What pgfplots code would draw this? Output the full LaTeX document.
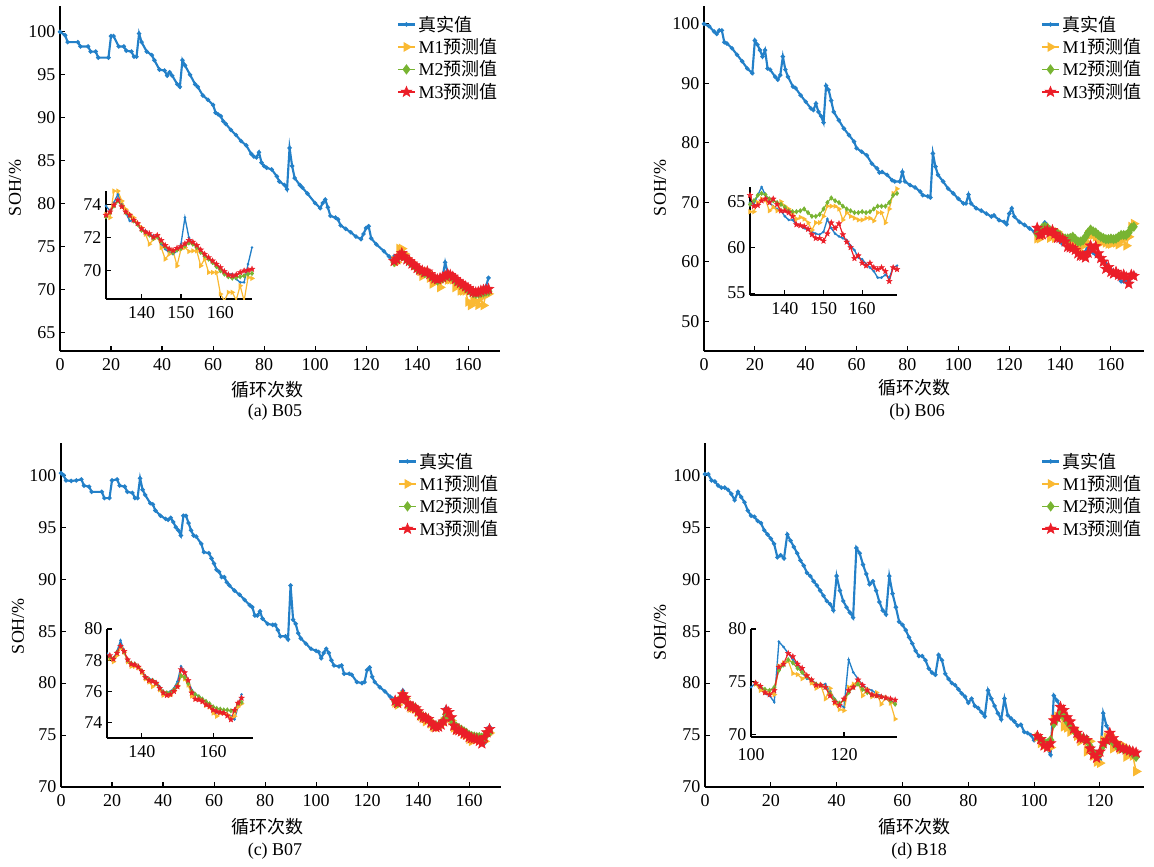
\documentclass[border=0pt]{standalone}
\usepackage{fontspec}
\setmainfont{Liberation Serif}
\newfontfamily\cjk{Noto Sans CJK SC}
\usepackage{pgfplots}
\usepackage{pgfplotstable}
\pgfplotsset{compat=1.18}
\usetikzlibrary{plotmarks}
\definecolor{cB}{RGB}{35,128,200}
\definecolor{cY}{RGB}{250,185,50}
\definecolor{cG}{RGB}{120,180,50}
\definecolor{cR}{RGB}{235,30,40}
\newcommand\fs{\fontsize{13.5}{16}\selectfont}

\pgfdeclareplotmark{fstar}{%
  \pgfpathmoveto{\pgfpointpolar{90}{\pgfplotmarksize}}%
  \pgfpathlineto{\pgfpointpolar{126}{0.42\pgfplotmarksize}}%
  \pgfpathlineto{\pgfpointpolar{162}{\pgfplotmarksize}}%
  \pgfpathlineto{\pgfpointpolar{198}{0.42\pgfplotmarksize}}%
  \pgfpathlineto{\pgfpointpolar{234}{\pgfplotmarksize}}%
  \pgfpathlineto{\pgfpointpolar{270}{0.42\pgfplotmarksize}}%
  \pgfpathlineto{\pgfpointpolar{306}{\pgfplotmarksize}}%
  \pgfpathlineto{\pgfpointpolar{342}{0.42\pgfplotmarksize}}%
  \pgfpathlineto{\pgfpointpolar{18}{\pgfplotmarksize}}%
  \pgfpathlineto{\pgfpointpolar{54}{0.42\pgfplotmarksize}}%
  \pgfpathclose
  \pgfusepathqfillstroke
}

\pgfplotsset{
  base/.style={scale only axis, axis lines=left, axis line style={-, line width=0.9pt, black},
    tick align=inside, major tick length=4pt, every tick/.style={black, line width=0.8pt},
    tick label style={font=\fs}, xticklabel style={yshift=-2pt},
    /pgf/number format/assume math mode=true,
    /pgf/number format/1000 sep={}, clip=true},
  mainax/.style={base, width=330pt, height=258.75pt,
    legend style={draw=none, fill=none, at={(0.765,0.98)}, anchor=north west, inner sep=0pt,
      row sep=0pt, font=\fs, cells={anchor=west}},
    legend cell align=left,
    legend image code/.code={\draw[mark repeat=2,mark phase=2] plot coordinates {(0cm,0cm) (0.225cm,0cm) (0.45cm,0cm)};}},
  inax/.style={base, width=109.5pt, height=81pt},
  tS/.style={color=cB, line width=1.6pt, mark=*, mark size=0.7pt, mark options={solid}},
  m1S/.style={color=cY, line width=1.1pt, mark=triangle*, mark size=3.2pt, mark options={rotate=-90, solid}},
  m2S/.style={color=cG, line width=1.1pt, mark=diamond*, mark size=3pt, mark options={solid}},
  m3S/.style={color=cR, line width=1.1pt, mark=fstar, mark size=4.2pt, mark options={solid, line width=0.4pt}},
  tSi/.style={color=cB, line width=1pt, mark=*, mark size=0.4pt, mark options={solid}},
  m1Si/.style={color=cY, line width=0.9pt, mark=triangle*, mark size=1.4pt, mark options={rotate=-90, solid}},
  m2Si/.style={color=cG, line width=0.9pt, mark=diamond*, mark size=1.3pt, mark options={solid}},
  m3Si/.style={color=cR, line width=0.9pt, mark=fstar, mark size=2.2pt, mark options={solid, line width=0.3pt}},
}

% ---------------- B05 ----------------
\pgfplotstableread{
c v
0 100.0
2 99.6
3 98.8
7 98.8
8 98.3
11 98.3
12 97.7
14 97.7
15 97.0
19 97.0
20 99.5
21 99.5
23 98.3
25 98.3
26 97.8
28 97.7
29 97.1
30 97.1
31 99.8
32 98.8
34 97.7
36 97.3
37 96.7
39 95.6
41 95.5
42 94.9
43 95.3
44 94.9
46 93.9
47 93.6
48 96.7
49 96.1
51 95.0
53 93.9
54 93.6
56 92.6
58 92.1
60 91.5
61 90.6
62 90.4
63 90.2
64 89.6
65 89.3
67 88.6
69 88.0
71 87.3
73 86.8
75 85.8
76 85.5
77 85.4
78 86.0
79 84.8
80 84.4
81 84.2
83 84.0
85 83.2
86 82.6
88 82.2
89 81.7
90 86.5
91 84.4
92 83.0
94 82.2
95 81.9
97 81.2
100 80.1
102 79.5
103 80.1
104 80.5
105 79.6
106 78.6
108 78.4
109 78.2
110 77.5
112 77.1
114 76.7
116 76.2
118 75.9
119 76.5
120 77.2
121 77.4
122 76.0
124 75.3
127 74.5
129 73.9
130 73.6
131 73.9
132 73.6
133 74.1
134 74.6
135 74.0
136 73.5
137 73.0
138 73.0
139 72.8
140 72.5
141 72.4
142 72.2
143 72.1
144 72.0
145 71.6
146 71.3
147 71.1
148 71.0
149 71.2
150 71.6
151 73.2
152 72.0
153 71.6
154 71.5
155 71.2
156 70.9
157 70.7
158 70.5
159 70.3
160 70.1
161 69.9
162 69.8
163 69.8
164 69.5
165 69.3
166 69.3
167 70.4
168 71.4
}\tAt
\pgfplotstableread{
c m1 m2 m3
131 73.4 73.25 73.35
132 73.2 73.5 73.55
133 74.8 73.9 73.96
134 74.8 74.2 74.26
135 74.2 73.9 73.86
136 73.7 73.5 73.55
137 73.4 73.3 73.35
138 73.2 73.0 73.05
139 72.84 72.8 72.85
140 72.6 72.44 72.54
141 72.2 72.3 72.34
142 71.6 72.15 72.24
143 71.9 71.95 72.03
144 72.1 72.05 72.13
145 71.4 71.73 71.83
146 70.7 71.45 71.53
147 71.0 71.25 71.32
148 71.2 71.1 71.22
149 70.3 71.25 71.36
150 71.3 71.35 71.46
151 71.4 71.5 71.63
152 71.16 71.67 71.83
153 71.2 71.6 71.73
154 71.2 71.4 71.53
155 70.3 71.1 71.26
156 70.7 70.9 71.0
157 69.9 70.7 70.8
158 69.9 70.5 70.6
159 69.9 70.25 70.4
160 68.6 70.0 70.2
161 68.2 69.8 69.96
162 68.7 69.64 69.76
163 68.7 69.56 69.7
164 68.24 69.6 69.76
165 69.1 69.64 69.9
166 68.2 69.7 70.0
167 69.6 69.8 70.04
168 69.54 69.84 70.1
}\pA

% ---------------- B06 ----------------
\pgfplotstableread{
c v
0 100.0
2 99.6
4 98.7
5 98.3
6 98.9
7 98.9
8 96.9
9 96.7
11 95.9
13 94.8
15 93.7
17 92.5
19 91.7
20 97.2
21 96.5
22 95.6
23 94.5
24 95.6
25 92.5
26 92.3
28 91.1
29 90.6
30 91.4
31 94.5
32 92.3
33 91.1
35 89.45
36 89.2
38 88.0
40 86.9
42 85.8
43 85.5
44 86.6
45 85.2
46 84.5
47 83.4
48 89.6
49 88.9
50 87.1
51 85.2
53 83.8
55 82.4
57 81.3
59 80.2
60 79.1
62 78.5
64 77.9
66 76.5
68 75.7
69 75.0
70 75.1
72 74.6
74 73.7
75 73.5
77 73.5
78 75.1
79 73.5
81 72.9
83 72.5
85 71.8
86 71.2
88 71.0
89 70.8
90 78.2
91 76.0
92 74.6
94 73.5
96 72.3
98 71.5
100 70.6
102 69.8
103 69.8
104 71.3
105 69.8
107 69.0
109 68.6
111 68.1
113 67.6
114 67.8
116 67.0
118 66.7
119 66.3
120 68.1
121 69.0
122 67.6
124 66.7
126 66.2
128 65.6
130 65.0
131 64.9
132 64.7
133 65.7
134 66.6
135 65.7
136 64.9
137 64.5
138 64.2
139 64.0
140 63.4
141 63.0
142 63.0
143 62.5
144 62.4
145 62.1
146 61.9
147 61.7
148 61.5
149 61.4
150 61.7
151 63.1
152 62.1
153 61.5
154 61.2
155 61.0
156 60.8
157 60.2
158 59.7
159 58.9
160 58.7
161 58.2
162 57.8
163 57.4
164 56.7
165 56.7
166 57.0
167 56.7
168 57.8
169 58.0
}\tBt
\pgfplotstableread{
c m1 m2 m3
131 63.9 64.7 65.7
132 63.9 65.1 64.5
133 64.9 65.7 64.6
134 65.3 65.9 65.1
135 65.2 65.75 65.3
136 64.0 65.3 64.9
137 64.4 65.1 65.3
138 64.0 64.9 64.7
139 65.0 64.7 64.0
140 64.5 64.4 64.0
141 64.2 64.0 63.8
142 63.8 63.9 63.4
143 63.1 63.9 62.5
144 63.3 64.0 62.4
145 63.1 64.2 62.3
146 62.7 63.8 62.0
147 61.9 63.4 61.4
148 62.7 63.4 61.0
149 62.7 63.6 61.0
150 63.4 64.2 60.7
151 64.5 64.9 61.5
152 64.5 65.4 62.7
153 64.5 65.1 62.1
154 64.2 64.9 62.6
155 63.0 64.5 61.4
156 63.8 64.2 60.6
157 63.4 64.0 60.0
158 63.2 63.8 58.8
159 63.0 63.8 59.1
160 63.0 63.9 58.3
161 63.2 63.8 58.0
162 63.2 63.9 58.3
163 62.9 64.2 57.8
164 63.8 64.5 57.6
165 63.8 64.5 57.8
166 62.7 64.5 57.4
167 64.2 64.9 56.3
168 65.9 65.7 57.8
169 66.4 65.9 57.6
}\pB

% ---------------- B07 ----------------
\pgfplotstableread{
c v
0 100.2
1 100.0
2 99.5
4 99.45
6 99.5
8 99.6
9 99.0
11 98.9
12 98.4
16 98.4
17 97.8
19 97.8
20 99.5
22 99.6
23 99.0
25 98.9
26 98.4
28 98.3
29 97.8
30 97.8
31 99.7
32 98.6
33 98.1
35 97.3
36 97.2
37 96.6
39 96.1
41 95.8
42 95.7
43 95.9
44 95.5
45 95.0
46 94.7
47 94.2
48 96.1
49 96.1
50 95.4
51 94.7
52 94.2
53 94.1
55 93.4
56 92.6
58 92.5
59 92.0
60 91.5
61 90.9
62 90.7
63 90.2
64 90.2
65 89.7
66 89.4
68 88.9
70 88.5
72 88.0
74 87.5
75 87.3
76 86.5
77 86.5
78 86.9
79 86.2
81 85.7
83 85.6
84 85.6
85 85.1
86 84.5
88 84.5
89 84.2
90 89.4
91 86.1
92 85.7
93 84.8
94 84.3
96 83.8
98 83.3
100 83.1
101 83.0
102 82.4
103 82.9
104 83.3
105 82.9
106 82.2
107 81.7
109 81.6
110 81.7
111 80.9
113 80.9
114 80.8
116 80.1
118 80.0
119 80.1
120 81.25
121 81.5
122 80.6
123 80.1
125 79.6
127 79.2
129 78.7
130 78.5
131 78.25
132 78.1
133 78.57
134 79.27
135 78.57
136 77.9
137 77.8
138 77.7
139 77.56
140 77.3
141 76.96
142 76.8
143 76.75
144 76.6
145 76.3
146 76.0
147 75.9
148 76.0
149 76.2
150 76.64
151 77.6
152 77.2
153 76.7
154 76.1
155 75.8
156 75.7
157 75.46
158 75.35
159 75.14
160 74.8
161 74.65
162 74.6
163 74.6
164 74.5
165 74.4
166 74.2
167 75.0
168 75.8
}\tCt
\pgfplotstableread{
c m1 m2 m3
131 78.1 78.2 78.3
132 77.9 78.1 78.07
133 78.3 78.5 78.46
134 78.8 78.9 78.9
135 78.5 78.55 78.57
136 77.9 78.0 78.03
137 77.6 77.8 77.75
138 77.6 77.75 77.7
139 77.5 77.6 77.56
140 77.2 77.3 77.28
141 76.8 76.9 76.9
142 76.6 76.75 76.7
143 76.3 76.7 76.64
144 76.5 76.5 76.53
145 76.1 76.2 76.2
146 75.75 75.95 75.9
147 75.8 75.9 75.74
148 75.75 75.9 75.8
149 76.0 76.1 76.0
150 76.3 76.4 76.3
151 77.0 77.0 77.4
152 76.8 76.9 77.2
153 76.4 76.5 76.7
154 75.7 76.0 75.9
155 75.5 75.8 75.5
156 75.5 75.65 75.46
157 75.35 75.5 75.35
158 75.1 75.35 75.14
159 75.0 75.2 75.03
160 74.6 75.0 74.8
161 74.4 74.9 74.7
162 74.6 74.85 74.65
163 74.6 74.8 74.6
164 74.5 74.8 74.43
165 74.3 74.75 74.18
166 74.4 74.75 74.78
167 75.0 75.2 75.25
168 75.2 75.3 75.57
}\pC

% ---------------- B18 ----------------
\pgfplotstableread{
c v
0 100.1
1 100.1
2 99.5
3 99.4
4 99.0
5 98.8
6 98.8
7 98.6
8 98.2
9 97.6
10 98.4
11 97.9
12 97.4
13 96.6
14 96.1
15 96.0
16 95.6
17 95.4
18 94.7
19 94.3
20 93.9
21 93.4
22 92.1
23 92.3
24 92.0
25 94.3
26 93.7
27 93.1
28 92.5
29 91.8
30 91.3
31 90.6
32 90.3
33 89.8
34 89.4
35 88.9
36 88.4
37 87.9
38 87.6
39 87.0
40 90.3
41 88.9
42 87.9
43 87.3
44 86.8
45 86.3
46 93.0
47 92.5
48 91.4
49 90.5
50 89.5
51 89.8
52 88.9
53 87.8
54 87.0
55 86.6
56 90.3
57 88.6
58 87.3
59 85.9
60 85.6
61 85.1
62 84.4
63 83.8
64 83.1
65 82.6
66 82.6
67 82.2
68 81.4
69 81.0
70 80.8
71 82.7
72 82.2
73 80.9
74 80.4
75 80.0
76 79.8
77 79.4
78 79.0
79 78.7
80 78.1
81 78.5
82 77.8
83 77.6
84 77.2
85 76.8
86 79.3
87 78.5
88 77.8
89 77.1
90 76.5
91 78.5
92 76.9
93 76.6
94 76.3
95 75.9
96 76.0
97 75.3
98 75.2
99 75.0
100 74.5
101 74.9
102 74.4
103 73.9
104 73.7
105 73.1
106 78.8
107 78.3
108 77.7
109 77.1
110 76.6
111 75.9
112 75.3
113 75.2
114 74.8
115 74.7
116 74.8
117 74.1
118 73.4
119 72.9
120 72.6
121 77.1
122 75.9
123 75.3
124 74.7
125 74.4
126 74.2
127 73.9
128 73.7
129 73.5
130 73.3
131 72.9
}\tDt
\pgfplotstableread{
c m1 m2 m3
101 74.8 74.9 74.9
102 74.2 74.6 74.6
103 74.0 74.3 74.0
104 73.9 74.2 73.8
105 73.8 74.5 74.2
106 76.5 76.1 76.4
107 76.8 76.6 76.7
108 77.0 77.1 77.7
109 75.8 76.8 77.4
110 75.7 76.3 76.7
111 75.3 75.9 76.3
112 75.6 75.5 75.6
113 74.9 75.2 75.2
114 74.4 74.8 74.7
115 74.7 74.7 74.7
116 73.4 74.5 74.5
117 74.4 73.9 73.7
118 73.0 73.3 73.1
119 72.4 73.0 72.8
120 72.3 73.3 73.4
121 74.5 74.0 74.2
122 74.8 74.5 74.5
123 75.0 74.8 75.2
124 73.7 74.3 74.7
125 74.3 74.0 74.2
126 73.6 73.8 73.8
127 74.0 73.7 73.7
128 72.9 73.6 73.6
129 73.5 73.5 73.5
130 73.0 73.2 73.4
131 71.5 72.9 73.3
}\pD

\begin{document}
\begin{tikzpicture}
\useasboundingbox (0pt,0pt) rectangle (865.5pt,-650.25pt);

% ===== (a) B05 =====
\begin{axis}[mainax, at={(45pt,-263.25pt)}, anchor=south west,
  xmin=0, xmax=172.5, ymin=62.9, ymax=103,
  xtick={0,20,...,160}, ytick={65,70,...,100}]
\addplot[tS] table[x=c,y=v]{\tAt};
\addplot[m1S] table[x=c,y=m1]{\pA};
\addplot[m2S] table[x=c,y=m2]{\pA};
\addplot[m3S] table[x=c,y=m3]{\pA};
\legend{{\cjk 真实值},M1{\cjk 预测值},M2{\cjk 预测值},M3{\cjk 预测值}}
\end{axis}
\begin{axis}[inax, at={(79.5pt,-224.25pt)}, anchor=south west,
  xmin=131, xmax=168, ymin=68.3, ymax=74.8,
  xtick={140,150,160}, ytick={70,72,74}]
\addplot[tSi] table[x=c,y=v]{\tAt};
\addplot[m1Si] table[x=c,y=m1]{\pA};
\addplot[m2Si] table[x=c,y=m2]{\pA};
\addplot[m3Si] table[x=c,y=m3]{\pA};
\end{axis}

% ===== (b) B06 =====
\begin{axis}[mainax, at={(528pt,-263.25pt)}, anchor=south west,
  xmin=0, xmax=173, ymin=45, ymax=103,
  xtick={0,20,...,160}, ytick={50,60,...,100}]
\addplot[tS] table[x=c,y=v]{\tBt};
\addplot[m1S] table[x=c,y=m1]{\pB};
\addplot[m2S] table[x=c,y=m2]{\pB};
\addplot[m3S] table[x=c,y=m3]{\pB};
\legend{{\cjk 真实值},M1{\cjk 预测值},M2{\cjk 预测值},M3{\cjk 预测值}}
\end{axis}
\begin{axis}[inax, at={(562.5pt,-221.25pt)}, anchor=south west, width=110.25pt,
  xmin=131, xmax=169, ymin=54.8, ymax=66.6,
  xtick={140,150,160}, ytick={55,60,65}]
\addplot[tSi] table[x=c,y=v]{\tBt};
\addplot[m1Si] table[x=c,y=m1]{\pB};
\addplot[m2Si] table[x=c,y=m2]{\pB};
\addplot[m3Si] table[x=c,y=m3]{\pB};
\end{axis}

% ===== (c) B07 =====
\begin{axis}[mainax, at={(45.75pt,-590.25pt)}, anchor=south west, height=258pt,
  xmin=0, xmax=172.5, ymin=70, ymax=103.1,
  xtick={0,20,...,160}, ytick={70,75,...,100}]
\addplot[tS] table[x=c,y=v]{\tCt};
\addplot[m1S] table[x=c,y=m1]{\pC};
\addplot[m2S] table[x=c,y=m2]{\pC};
\addplot[m3S] table[x=c,y=m3]{\pC};
\legend{{\cjk 真实值},M1{\cjk 预测值},M2{\cjk 预测值},M3{\cjk 预测值}}
\end{axis}
\begin{axis}[inax, at={(80.25pt,-553.5pt)}, anchor=south west, height=81.75pt,
  xmin=130.2, xmax=171.2, ymin=73, ymax=80,
  xtick={140,160}, ytick={74,76,78,80}]
\addplot[tSi] table[x=c,y=v]{\tCt};
\addplot[m1Si] table[x=c,y=m1]{\pC};
\addplot[m2Si] table[x=c,y=m2]{\pC};
\addplot[m3Si] table[x=c,y=m3]{\pC};
\end{axis}

% ===== (d) B18 =====
\begin{axis}[mainax, at={(528.75pt,-590.25pt)}, anchor=south west, width=329.25pt, height=258pt,
  xmin=0, xmax=133.4, ymin=70, ymax=103.1,
  xtick={0,20,...,120}, ytick={70,75,...,100}]
\addplot[tS] table[x=c,y=v]{\tDt};
\addplot[m1S] table[x=c,y=m1]{\pD};
\addplot[m2S] table[x=c,y=m2]{\pD};
\addplot[m3S] table[x=c,y=m3]{\pD};
\legend{{\cjk 真实值},M1{\cjk 预测值},M2{\cjk 预测值},M3{\cjk 预测值}}
\end{axis}
\begin{axis}[inax, at={(563.25pt,-552.75pt)}, anchor=south west,
  xmin=100, xmax=131.4, ymin=69.8, ymax=80,
  xtick={100,120}, ytick={70,75,80}, xticklabel style={yshift=-3pt}]
\addplot[tSi] table[x=c,y=v]{\tDt};
\addplot[m1Si] table[x=c,y=m1]{\pD};
\addplot[m2Si] table[x=c,y=m2]{\pD};
\addplot[m3Si] table[x=c,y=m3]{\pD};
\end{axis}

% ===== labels =====
\node[font=\fs\cjk] at (200.25pt,-292.5pt) {循环次数};
\node[font=\fs\cjk] at (685.5pt,-291pt) {循环次数};
\node[font=\fs\cjk] at (200.25pt,-620.25pt) {循环次数};
\node[font=\fs\cjk] at (685.5pt,-620.25pt) {循环次数};
\node[font=\fs] at (206.25pt,-309pt) {(a) B05};
\node[font=\fs] at (687.75pt,-309pt) {(b) B06};
\node[font=\fs] at (206.25pt,-638.25pt) {(c) B07};
\node[font=\fs] at (689.25pt,-638.25pt) {(d) B18};
\node[font=\fs, rotate=90] at (11.25pt,-141pt) {SOH/\%};
\node[font=\fs, rotate=90] at (495pt,-141pt) {SOH/\%};
\node[font=\fs, rotate=90] at (13.5pt,-469.5pt) {SOH/\%};
\node[font=\fs, rotate=90] at (495pt,-474pt) {SOH/\%};
\end{tikzpicture}
\end{document}
